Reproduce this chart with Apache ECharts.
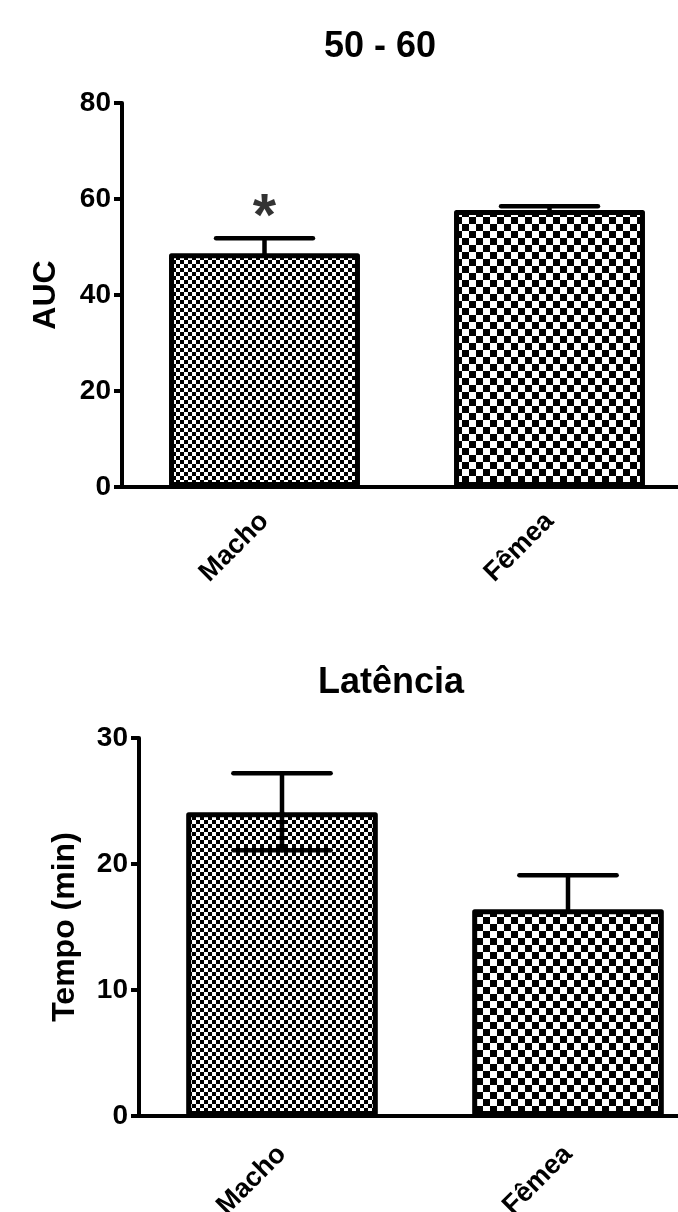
<!DOCTYPE html>
<html>
<head>
<meta charset="utf-8">
<script src="https://cdn.jsdelivr.net/npm/echarts@6/dist/echarts.min.js"></script>
<style>html,body{margin:0;padding:0;background:#fff}#c{width:678px;height:1212px}</style>
</head>
<body>
<div id="c"></div>
<script>
// ---- data ----
const categories = ['Macho', 'Fêmea'];
const aucMean  = [48.7, 57.7];
const aucUpper = [51.8, 58.5];
const aucLower = [null, null];
const latMean  = [24.1, 16.4];
const latUpper = [27.2, 19.1];
const latLower = [21.1, null];
const aucTicks = [0, 20, 40, 60, 80];
const latTicks = [0, 10, 20, 30];
const aucStars = ['*', ''];

// ---- patterns ----
function checker(period) {
  const cv = document.createElement('canvas');
  cv.width = period; cv.height = period;
  const ctx = cv.getContext('2d');
  const h = period / 2;
  ctx.fillStyle = '#fff'; ctx.fillRect(0, 0, period, period);
  ctx.fillStyle = '#000';
  ctx.fillRect(0, 0, h, h);
  ctx.fillRect(h, h, h, h);
  return { image: cv, repeat: 'repeat' };
}
const fine = checker(8);
const coarse = checker(14);
const patterns = [fine, coarse];

const FONT = '"Liberation Sans", Arial, Helvetica, sans-serif';

function errRender(upper, lower) {
  return function (params, api) {
    const i = api.value(0);
    const m = api.value(1);
    const band = api.size([1, 0])[0];
    const half = band * 0.17;
    const p0 = api.coord([i, m]);
    const children = [];
    const style = { stroke: '#000', lineWidth: 4.5, lineCap: 'round' };
    const ends = [upper[i], lower[i]];
    ends.forEach(function (v) {
      if (v === null || v === undefined) return;
      const p = api.coord([i, v]);
      children.push({ type: 'line', shape: { x1: p0[0], y1: p0[1], x2: p[0], y2: p[1] }, style: style });
      children.push({ type: 'line', shape: { x1: p[0] - half, y1: p[1], x2: p[0] + half, y2: p[1] }, style: style });
    });
    return { type: 'group', children: children };
  };
}

function axisX(gi, margin) {
  return {
    type: 'category', gridIndex: gi, data: categories,
    axisLine: { lineStyle: { color: '#000', width: 4 } },
    axisTick: { alignWithLabel: true, length: 10, lineStyle: { color: '#000', width: 4 } },
    axisLabel: { rotate: 45, margin: margin, color: '#000', fontWeight: 'bold', fontSize: 27, fontFamily: FONT }
  };
}
function axisY(gi, max, interval, name, gap) {
  return {
    type: 'value', gridIndex: gi, min: 0, max: max, interval: interval,
    name: name, nameLocation: 'middle', nameRotate: 90, nameGap: gap,
    nameTextStyle: { color: '#000', fontWeight: 'bold', fontSize: 32, fontFamily: FONT },
    splitLine: { show: false },
    axisLine: { show: true, lineStyle: { color: '#000', width: 4 } },
    axisTick: { show: true, length: 8, lineStyle: { color: '#000', width: 4 } },
    axisLabel: { margin: 11, color: '#000', fontWeight: 'bold', fontSize: 28, fontFamily: FONT }
  };
}

const barItem = (vals) => vals.map((v, i) => ({
  value: v,
  itemStyle: { color: patterns[i], borderColor: '#000', borderWidth: 5, borderJoin: 'round' }
}));

const option = {
  animation: false,
  backgroundColor: '#fff',
  title: [
    { text: '50 - 60', left: 375, top: 24, textAlign: 'center',
      textStyle: { color: '#000', fontWeight: 'bold', fontSize: 36, fontFamily: FONT } },
    { text: 'Latência', left: 386, top: 660, textAlign: 'center',
      textStyle: { color: '#000', fontWeight: 'bold', fontSize: 36, fontFamily: FONT } }
  ],
  grid: [
    { left: 122, top: 103, width: 570, height: 384, outerBoundsMode: 'none', containLabel: false },
    { left: 139, top: 738, width: 572, height: 378, outerBoundsMode: 'none', containLabel: false }
  ],
  xAxis: [axisX(0, 30), axisX(1, 34)],
  yAxis: [axisY(0, aucTicks[aucTicks.length - 1], aucTicks[1] - aucTicks[0], 'AUC', 60),
          axisY(1, latTicks[latTicks.length - 1], latTicks[1] - latTicks[0], 'Tempo (min)', 58)],
  series: [
    { type: 'bar', xAxisIndex: 0, yAxisIndex: 0, barWidth: '67%', data: barItem(aucMean), z: 2 },
    { type: 'bar', xAxisIndex: 1, yAxisIndex: 1, barWidth: '67%', data: barItem(latMean), z: 2 },
    { type: 'custom', xAxisIndex: 0, yAxisIndex: 0, z: 3,
      renderItem: errRender(aucUpper, aucLower),
      data: aucMean.map((v, i) => [i, v]) },
    { type: 'custom', xAxisIndex: 1, yAxisIndex: 1, z: 3,
      renderItem: errRender(latUpper, latLower),
      data: latMean.map((v, i) => [i, v]) },
    { type: 'scatter', xAxisIndex: 0, yAxisIndex: 0, symbolSize: 0, z: 4,
      data: aucUpper.map((v, i) => [i, v]),
      label: { show: true, position: 'top', distance: -10, color: '#000', fontWeight: 'bold', fontSize: 60, fontFamily: FONT,
        formatter: (p) => aucStars[p.dataIndex] } }
  ]
};

const chart = echarts.init(document.getElementById('c'), null, { renderer: 'canvas' });
chart.setOption(option);
</script>
</body>
</html>
